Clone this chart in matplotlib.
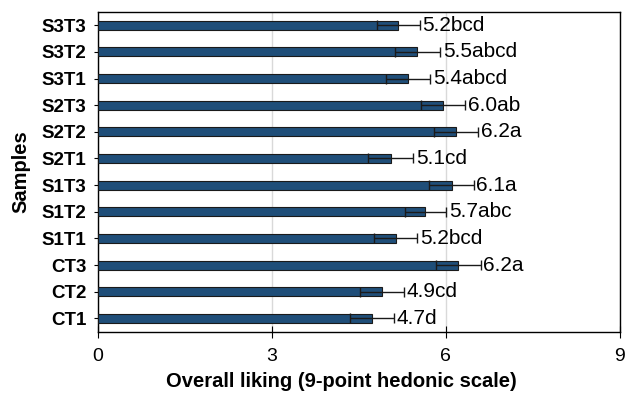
import matplotlib.pyplot as plt

plt.rcParams['font.family'] = ['Liberation Sans', 'DejaVu Sans']

samples = ["CT1", "CT2", "CT3", "S1T1", "S1T2", "S1T3",
           "S2T1", "S2T2", "S2T3", "S3T1", "S3T2", "S3T3"]
liking = [4.73, 4.90, 6.22, 5.14, 5.65, 6.10, 5.05, 6.17, 5.95, 5.35, 5.51, 5.18]
errors = [0.38, 0.38, 0.38, 0.37, 0.36, 0.38, 0.39, 0.38, 0.38, 0.38, 0.39, 0.37]
labels = ["4.7d", "4.9cd", "6.2a", "5.2bcd", "5.7abc", "6.1a",
          "5.1cd", "6.2a", "6.0ab", "5.4abcd", "5.5abcd", "5.2bcd"]

fig = plt.figure(figsize=(6.26, 3.97), dpi=100)
ax = fig.add_axes([0.156, 0.1645, 0.834, 0.8055])

pos = range(len(samples))
ax.barh(pos, liking, height=0.34, color="#1f4e79", edgecolor="#1a1a1a",
        linewidth=0.8, xerr=errors, capsize=3.5,
        error_kw=dict(ecolor="#1a1a1a", elinewidth=1.0, capthick=1.0), zorder=3)

for i in pos:
    ax.text(liking[i] + errors[i] + 0.05, i, labels[i], va="center", ha="left",
            fontsize=15, zorder=4)

ax.set_xlim(0, 9)
ax.set_ylim(-0.5, len(samples) - 0.5)
ax.set_xticks([0, 3, 6, 9])
ax.set_yticks(list(pos))
ax.set_yticklabels(samples, fontweight="bold", fontsize=13.5)
ax.tick_params(axis="x", direction="inout", length=8, labelsize=14, pad=8)
ax.tick_params(axis="y", direction="inout", length=6, pad=5)
ax.grid(axis="x", color="#d9d9d9", linewidth=1.0, zorder=0)
for s in ax.spines.values():
    s.set_linewidth(1.0)
    s.set_color("black")

ax.set_xlabel("Overall liking (9-point hedonic scale)", fontweight="bold",
              fontsize=14.5, labelpad=6)
ax.xaxis.set_label_coords(0.467, -0.125)
ax.set_ylabel("Samples", fontweight="bold", fontsize=14.5, labelpad=8)

fig.savefig("out.png", dpi=100)
